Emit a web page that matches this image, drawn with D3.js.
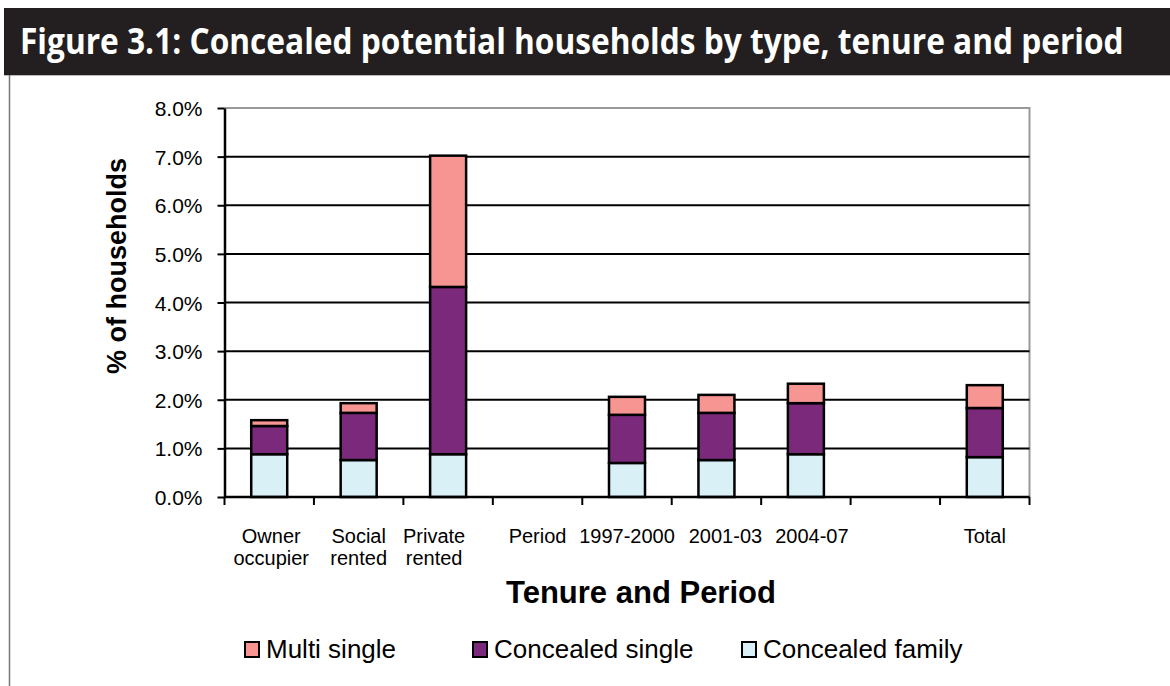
<!DOCTYPE html>
<html><head><meta charset="utf-8">
<script src="https://cdn.jsdelivr.net/npm/d3@7"></script>
<style>body{margin:0;background:#fff}svg{display:block}</style>
</head><body><svg id="c" width="1170" height="686"></svg>
<script>
const categories = ["Owner occupier","Social rented","Private rented","Period","1997-2000","2001-03","2004-07","","Total"];
const labelLines = [["Owner","occupier"],["Social","rented"],["Private","rented"],["Period"],["1997-2000"],["2001-03"],["2004-07"],[""],["Total"]];
const seriesNames = ["Concealed family","Concealed single","Multi single"];
const concealedFamily = [0.88,0.76,0.88,null,0.70,0.76,0.88,null,0.82];
const concealedSingle = [0.58,0.97,3.44,null,0.99,0.97,1.05,null,1.01];
const multiSingle     = [0.12,0.20,2.70,null,0.37,0.37,0.40,null,0.47];
const yTicks = [0,1,2,3,4,5,6,7,8];
const legendOrder = ["Multi single","Concealed single","Concealed family"];

const colors = {"Concealed family":"#daf0f7","Concealed single":"#7b2a7b","Multi single":"#f69591"};
const labelDx = [2,0,-14,0,0,9,6,0,0];
const FONT = "'Liberation Sans', Arial, sans-serif";

const svg = d3.select("#c");
// title bar
svg.append("rect").attr("x",4).attr("y",8).attr("width",1166).attr("height",67).attr("fill","#231f20");
svg.append("line").attr("x1",4).attr("x2",1170).attr("y1",75.5).attr("y2",75.5).attr("stroke","#bbb");
svg.append("line").attr("x1",9.5).attr("x2",9.5).attr("y1",75).attr("y2",686).attr("stroke","#777").attr("stroke-width",1.5);
const title = svg.append("text").attr("fill","#fff")
  .attr("font-family","'Open Sans'").attr("font-weight","bold").attr("font-size",36)
  .text("Figure 3.1: Concealed potential households by type, tenure and period");
const tlen = title.node().getComputedTextLength();
title.attr("transform",`translate(20,54) scale(${1104/tlen},1)`);

const L=224.5, R=1029.5, T=108, B=497;
const x = d3.scaleBand().domain(categories.map((d,i)=>i)).range([L,R]);
const y = d3.scaleLinear().domain([0,8]).range([B,T]);

// plot border (gray)
svg.append("path").attr("d",`M${L},${T}H${R}V${B}`).attr("fill","none").attr("stroke","#999").attr("stroke-width",2);
// gridlines
svg.append("g").selectAll("line").data(yTicks.filter(d=>d>0&&d<8)).join("line")
  .attr("x1",L).attr("x2",R).attr("y1",d=>y(d)).attr("y2",d=>y(d)).attr("stroke","#000").attr("stroke-width",2);

// bars
const rows = categories.map((c,i)=>({i, "Concealed family":concealedFamily[i]||0, "Concealed single":concealedSingle[i]||0, "Multi single":multiSingle[i]||0, valid:concealedFamily[i]!=null}));
const stack = d3.stack().keys(seriesNames)(rows);
const bw = 36;
svg.append("g").selectAll("g").data(stack).join("g").attr("fill",d=>colors[d.key])
  .selectAll("rect").data(d=>d.filter(p=>p.data.valid)).join("rect")
  .attr("x",p=>x(p.data.i)+x.bandwidth()/2-bw/2).attr("width",bw)
  .attr("y",p=>y(p[1])).attr("height",p=>y(p[0])-y(p[1]))
  .attr("stroke","#000").attr("stroke-width",2.5);

// axes
const yAxis = svg.append("g").attr("transform",`translate(${L},0)`)
  .call(d3.axisLeft(y).tickValues(yTicks).tickSize(7).tickSizeOuter(0).tickFormat(d=>d.toFixed(1)+"%"));
yAxis.attr("font-family",FONT).attr("font-size",21);
yAxis.select(".domain").attr("stroke","#000").attr("stroke-width",2.5);
yAxis.selectAll(".tick line").attr("stroke","#000").attr("stroke-width",2);
yAxis.selectAll(".tick text").attr("x",-22).attr("dy","0.36em").attr("fill","#000");

const xTicks = d3.range(categories.length+1).map(i=>L+i*x.step());
svg.append("line").attr("x1",L).attr("x2",R).attr("y1",B).attr("y2",B).attr("stroke","#000").attr("stroke-width",2.5);
svg.append("g").selectAll("line").data(xTicks).join("line")
  .attr("x1",d=>d).attr("x2",d=>d).attr("y1",B).attr("y2",B+8).attr("stroke","#000").attr("stroke-width",2);

const xl = svg.append("g").attr("font-family",FONT).attr("font-size",20).attr("text-anchor","middle");
labelLines.forEach((lines,i)=>{
  lines.forEach((t,j)=>{
    xl.append("text").attr("x",x(i)+x.bandwidth()/2+labelDx[i]).attr("y",543+j*22).text(t);
  });
});

svg.append("text").attr("x",641).attr("y",603).attr("text-anchor","middle")
  .attr("font-family",FONT).attr("font-weight","bold").attr("font-size",31).text("Tenure and Period");
svg.append("text").attr("transform","translate(126,266) rotate(-90)").attr("text-anchor","middle")
  .attr("font-family",FONT).attr("font-weight","bold").attr("font-size",27).text("% of households");

// legend
const legX = [245,473,742];
const lg = svg.append("g").attr("font-family",FONT).attr("font-size",26);
legendOrder.forEach((k,i)=>{
  lg.append("rect").attr("x",legX[i]).attr("y",642).attr("width",14).attr("height",15)
    .attr("fill",colors[k]).attr("stroke","#000").attr("stroke-width",2);
  lg.append("text").attr("x",legX[i]+21).attr("y",658).text(k);
});
</script></body></html>
